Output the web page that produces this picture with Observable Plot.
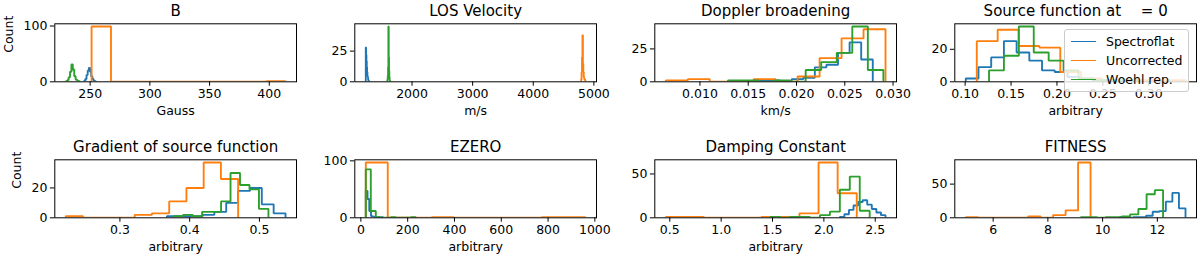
<!DOCTYPE html>
<html>
<head>
<meta charset="utf-8">
<script src="https://cdn.jsdelivr.net/npm/d3@7"></script>
<script src="https://cdn.jsdelivr.net/npm/@observablehq/plot@0.6"></script>
<style>
  html, body { margin: 0; padding: 0; background: #fff; }
  #fig { position: relative; width: 1200px; height: 260px; overflow: hidden; font-family: "DejaVu Sans", sans-serif; }
  #fig svg { position: absolute; overflow: visible; }
  .legend { position: absolute; left: 1064px; top: 28.5px; padding: 3px 6px 2px 6px;
            background: rgba(255,255,255,0.8); border: 1px solid #cccccc; border-radius: 3px;
            font-family: "DejaVu Sans", sans-serif; font-size: 12.5px; color: #000; white-space: nowrap; }
  .legend .row { height: 18.8px; display: flex; align-items: center; }
  .legend .swatch { width: 25px; height: 0; border-top: 1.875px solid; margin-right: 10px; }
</style>
</head>
<body>
<div id="fig"></div>
<script>
// ---------- general ----------
const seriesNames = ["Spectroflat", "Uncorrected", "Woehl rep."];
const seriesColors = ["#1f77b4", "#ff7f0e", "#2ca02c"];
const panelTitles = ["B", "LOS Velocity", "Doppler broadening", "Source function at \u2003= 0",
                     "Gradient of source function", "EZERO", "Damping Constant", "FITNESS"];
const xLabels = ["Gauss", "m/s", "km/s", "arbitrary", "arbitrary", "arbitrary", "arbitrary", ""];
const yLabels = ["Count", "", "", "", "Count", "", "", ""];
const xTicks = [[250, 300, 350, 400], [2000, 3000, 4000, 5000], [0.010, 0.015, 0.020, 0.025, 0.030],
                [0.10, 0.15, 0.20, 0.25, 0.30], [0.3, 0.4, 0.5], [0, 200, 400, 600, 800, 1000],
                [0.5, 1.0, 1.5, 2.0, 2.5], [6, 8, 10, 12]];
const xTickDecimals = [0, 0, 3, 2, 1, 0, 1, 0];
const yTicks = [[0, 100], [0, 25], [0, 25], [0, 20], [0, 20], [0, 100], [0, 50], [0, 50]];

// ---------- histograms: 10 equal bins between lo and hi; order = [Spectroflat, Uncorrected, Woehl rep.] ----------
const bLo = [245, 251.2, 229.6];
const bHi = [254.8, 413.6, 241.4];
const bCounts = [[2, 5, 12, 20, 25, 18, 10, 5, 2, 1], [99, 0, 0, 0, 0, 0, 0, 0, 0, 1], [1, 3, 8, 18, 31, 22, 10, 4, 2, 1]];

const losLo = [1237, 4790, 1590];
const losHi = [1290, 4862, 1640];
const losCounts = [[28, 22, 17, 12, 8, 5, 4, 2, 1, 1], [2, 8, 20, 38, 15, 8, 4, 2, 2, 1], [1, 2, 5, 12, 45, 20, 9, 4, 1, 1]];

const dopLo = [0.0159, 0.00646, 0.0129];
const dopHi = [0.0279, 0.02922, 0.0290];
const dopCounts = [[1, 1, 0, 2, 3, 11, 13, 22, 30, 17], [1, 2, 0, 0, 2, 0, 4, 18, 33, 40], [1, 1, 0, 1, 0, 9, 15, 22, 42, 9]];

const srcLo = [0.1007, 0.1127, 0.126];
const srcHi = [0.2391, 0.340, 0.2884];
const srcCounts = [[2, 9, 15, 25, 18, 13, 7, 6, 3, 2], [25, 32, 22, 21, 6, 2, 1, 1, 1, 1], [7, 16, 34, 18, 13, 7, 2, 1, 1, 1]];

const gradLo = [0.3674, 0.2224, 0.3771];
const gradHi = [0.5374, 0.4695, 0.5129];
const gradCounts = [[1, 1, 1, 2, 4, 10, 18, 20, 9, 3], [1, 0, 0, 0, 2, 3, 11, 20, 37, 26], [1, 2, 1, 4, 4, 11, 30, 22, 19, 6]];

const ezLo = [21, 21, 21];
const ezHi = [95, 960, 235];
const ezCounts = [[47, 33, 12, 3, 2, 1, 0, 1, 0, 1], [97, 0, 0, 1, 0, 0, 0, 0, 1, 1], [85, 12, 1, 0, 0, 1, 0, 0, 0, 1]];

const dampLo = [2.155, 0.461, 1.478];
const dampHi = [2.6, 2.32, 2.446];
const dampCounts = [[1, 4, 9, 14, 18, 20, 15, 10, 6, 3], [1, 1, 0, 0, 0, 1, 1, 5, 63, 28], [1, 0, 1, 1, 0, 3, 7, 32, 47, 8]];

const fitLo = [10.63, 5.0, 9.2];
const fitHi = [13.03, 9.56, 12.21];
const fitCounts = [[1, 0, 1, 1, 3, 9, 10, 24, 37, 14], [1, 0, 0, 0, 0, 2, 0, 4, 11, 82], [1, 1, 0, 1, 1, 2, 5, 13, 35, 41]];

// ---------- build ----------
const panelLo = [bLo, losLo, dopLo, srcLo, gradLo, ezLo, dampLo, fitLo];
const panelHi = [bHi, losHi, dopHi, srcHi, gradHi, ezHi, dampHi, fitHi];
const panelCounts = [bCounts, losCounts, dopCounts, srcCounts, gradCounts, ezCounts, dampCounts, fitCounts];

function stepOutline(lo, hi, counts, name) {
  const n = counts.length, w = (hi - lo) / n;
  const pts = [{x: lo, y: 0, s: name}];
  counts.forEach((c, i) => {
    pts.push({x: lo + i * w, y: c, s: name});
    pts.push({x: lo + (i + 1) * w, y: c, s: name});
  });
  pts.push({x: hi, y: 0, s: name});
  return pts;
}

const fig = document.getElementById("fig");
const frameW = 241.7, frameH = 58;
const frameTops = [23.3, 159.3];
const ylabelDx = [-46.3, -38.3];

for (let p = 0; p < 8; p++) {
  const col = p % 4, row = Math.floor(p / 4);
  const lo = panelLo[p], hi = panelHi[p], counts = panelCounts[p];
  const pts = seriesNames.flatMap((s, k) => stepOutline(lo[k], hi[k], counts[k], s));
  const xmin = d3.min(lo), xmax = d3.max(hi), r = xmax - xmin;
  const ymax = d3.max(counts.flat());
  const cellTop = row * 130;
  const mT = frameTops[row] - cellTop;
  const mL = 54.3;
  const marks = [
    Plot.line(pts, {x: "x", y: "y", z: "s", stroke: "s", strokeWidth: 1.875, clip: true, strokeLinejoin: "miter"}),
    Plot.frame({stroke: "black", strokeWidth: 1}),
    Plot.text([panelTitles[p]], {text: d => d, frameAnchor: "top", lineAnchor: "bottom", dy: -7.5, fontSize: 15})
  ];
  if (xLabels[p]) marks.push(Plot.text([xLabels[p]], {text: d => d, frameAnchor: "bottom", lineAnchor: "bottom", dy: 33, fontSize: 12.5}));
  if (yLabels[p]) marks.push(Plot.text([yLabels[p]], {text: d => d, frameAnchor: "left", rotate: -90, dx: ylabelDx[row], fontSize: 12.5}));
  const svg = Plot.plot({
    width: 300, height: 130,
    marginLeft: mL, marginRight: 300 - mL - frameW,
    marginTop: mT, marginBottom: 130 - mT - frameH,
    style: {fontFamily: "DejaVu Sans", fontSize: "12.5px", color: "black", background: "transparent", overflow: "visible"},
    x: {domain: [xmin - 0.05 * r, xmax + 0.05 * r], ticks: xTicks[p], tickFormat: d3.format(`.${xTickDecimals[p]}f`),
        tickSize: 4.4, tickPadding: 2.5, label: null},
    y: {domain: [0, ymax * 1.05], ticks: yTicks[p], tickFormat: d3.format("d"), tickSize: 4.4, tickPadding: 3, label: null},
    color: {domain: seriesNames, range: seriesColors},
    marks
  });
  svg.style.left = (col * 300) + "px";
  svg.style.top = cellTop + "px";
  fig.appendChild(svg);
}

// legend (in the "Source function" panel)
const legend = document.createElement("div");
legend.className = "legend";
seriesNames.forEach((s, k) => {
  const rowDiv = document.createElement("div");
  rowDiv.className = "row";
  const sw = document.createElement("span");
  sw.className = "swatch";
  sw.style.borderTopColor = seriesColors[k];
  const tx = document.createElement("span");
  tx.textContent = s;
  rowDiv.appendChild(sw);
  rowDiv.appendChild(tx);
  legend.appendChild(rowDiv);
});
fig.appendChild(legend);
</script>
</body>
</html>
